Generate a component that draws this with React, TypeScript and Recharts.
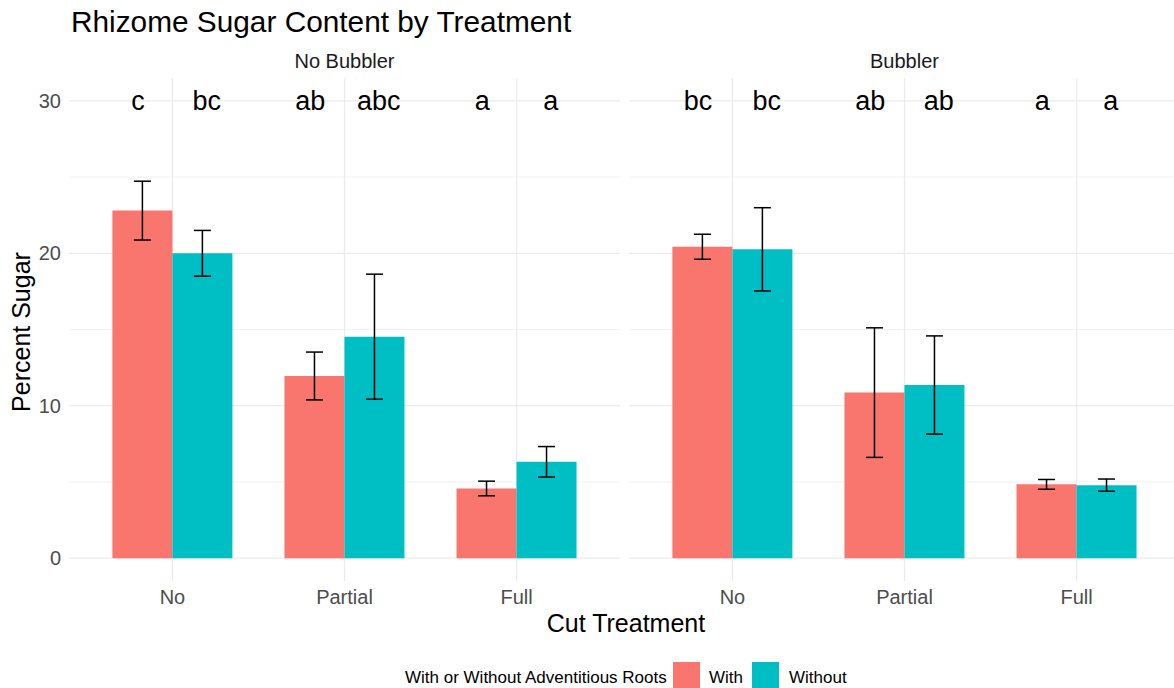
import { BarChart, Bar, XAxis, YAxis, CartesianGrid, ErrorBar, LabelList } from 'recharts'

const CUTS = ['No', 'Partial', 'Full']

// mean percent sugar and standard error, by adventitious roots
const NO_BUBBLER_WITH = [22.8, 11.95, 4.57]
const NO_BUBBLER_WITH_SE = [1.93, 1.57, 0.48]
const NO_BUBBLER_WITHOUT = [20.0, 14.53, 6.32]
const NO_BUBBLER_WITHOUT_SE = [1.5, 4.1, 1.0]
const NO_BUBBLER_WITH_LETTERS = ['c', 'ab', 'a']
const NO_BUBBLER_WITHOUT_LETTERS = ['bc', 'abc', 'a']

const BUBBLER_WITH = [20.43, 10.86, 4.84]
const BUBBLER_WITH_SE = [0.82, 4.25, 0.32]
const BUBBLER_WITHOUT = [20.26, 11.36, 4.79]
const BUBBLER_WITHOUT_SE = [2.73, 3.22, 0.4]
const BUBBLER_WITH_LETTERS = ['bc', 'ab', 'a']
const BUBBLER_WITHOUT_LETTERS = ['bc', 'ab', 'a']

const Y_TICKS = [0, 10, 20, 30]
const Y_MINOR = [5, 15, 25]
const LETTER_Y = 30

const RED = '#F8766D'
const CYAN = '#00BFC4'
const GRID = '#EBEBEB'
const FONT = '"Liberation Sans", Arial, sans-serif'

const W = 1174
const H = 688
const PLOT_TOP = 78
const PLOT_BOTTOM = 581
const Y_AXIS_W = 69
const PANEL_W = 551
const PANEL_GAP = 9
const BAND_PAD = 17.4
// bars are dodged at 0.7 of a category, letters at 0.8
const LETTER_SPREAD = 0.8 / 0.7 - 1

type Row = {
  cut: string
  with: number
  withSe: number
  withLetter: string
  without: number
  withoutSe: number
  withoutLetter: string
}

const buildRows = (
  w: number[], wSe: number[], wL: string[],
  wo: number[], woSe: number[], woL: string[],
): Row[] =>
  CUTS.map((cut, i) => ({
    cut,
    with: w[i],
    withSe: wSe[i],
    withLetter: wL[i],
    without: wo[i],
    withoutSe: woSe[i],
    withoutLetter: woL[i],
  }))

const noBubblerRows = buildRows(
  NO_BUBBLER_WITH, NO_BUBBLER_WITH_SE, NO_BUBBLER_WITH_LETTERS,
  NO_BUBBLER_WITHOUT, NO_BUBBLER_WITHOUT_SE, NO_BUBBLER_WITHOUT_LETTERS,
)
const bubblerRows = buildRows(
  BUBBLER_WITH, BUBBLER_WITH_SE, BUBBLER_WITH_LETTERS,
  BUBBLER_WITHOUT, BUBBLER_WITHOUT_SE, BUBBLER_WITHOUT_LETTERS,
)

// significance letter drawn over each bar at y = LETTER_Y, using the bar's own px/unit
const letterLabel = (values: number[], side: number) => (props: any) => {
  const vb = props.viewBox ?? props
  const { x, y, width, height } = vb
  const v = values[props.index]
  if (!v || !height) return null
  const base = y + height
  const ly = base - (LETTER_Y * height) / v
  const lx = x + width / 2 + side * (width / 2) * LETTER_SPREAD
  return (
    <text x={lx} y={ly} dy="0.35em" textAnchor="middle" fontSize={27} fontFamily={FONT} fill="#000">
      {props.value}
    </text>
  )
}

const tickStyle = { fontSize: 20, fill: '#4D4D4D', fontFamily: FONT }

function Panel({ rows, showY }: { rows: Row[]; showY: boolean }) {
  const width = (showY ? Y_AXIS_W : 0) + PANEL_W
  return (
    <BarChart
      width={width}
      height={H}
      data={rows}
      margin={{ top: PLOT_TOP, right: 0, left: 0, bottom: H - PLOT_BOTTOM - 30 }}
      barGap={0}
      barSize={60}
    >
      <CartesianGrid vertical={false} horizontalValues={Y_MINOR} stroke={GRID} strokeWidth={0.7} />
      <CartesianGrid stroke={GRID} strokeWidth={1.3} syncWithTicks />
      <XAxis
        dataKey="cut"
        height={30}
        padding={{ left: BAND_PAD, right: BAND_PAD }}
        tickLine={false}
        axisLine={false}
        tickMargin={3}
        tick={tickStyle}
        interval={0}
      />
      <YAxis
        type="number"
        domain={[-1.5, 31.5]}
        ticks={Y_TICKS}
        allowDataOverflow
        hide={!showY}
        width={Y_AXIS_W}
        tickLine={false}
        axisLine={false}
        tick={tickStyle}
      />
      <Bar dataKey="with" fill={RED} isAnimationActive={false}>
        <ErrorBar dataKey="withSe" width={8.5} stroke="#000" strokeWidth={1.5} isAnimationActive={false} />
        <LabelList dataKey="withLetter" content={letterLabel(rows.map(r => r.with), -1)} />
      </Bar>
      <Bar dataKey="without" fill={CYAN} isAnimationActive={false}>
        <ErrorBar dataKey="withoutSe" width={8.5} stroke="#000" strokeWidth={1.5} isAnimationActive={false} />
        <LabelList dataKey="withoutLetter" content={letterLabel(rows.map(r => r.without), 1)} />
      </Bar>
    </BarChart>
  )
}

export default function App() {
  const p2Left = Y_AXIS_W + PANEL_W + PANEL_GAP
  return (
    <div
      style={{
        position: 'absolute',
        left: 0,
        top: 0,
        width: W,
        height: H,
        overflow: 'hidden',
        background: '#fff',
        fontFamily: FONT,
      }}
    >
      <div style={{ position: 'absolute', left: 0, top: 0 }}>
        <Panel rows={noBubblerRows} showY />
      </div>
      <div style={{ position: 'absolute', left: p2Left, top: 0 }}>
        <Panel rows={bubblerRows} showY={false} />
      </div>

      <svg width={W} height={H} style={{ position: 'absolute', left: 0, top: 0, pointerEvents: 'none' }}>
        <text x={71} y={32} fontSize={29.8} fill="#000">Rhizome Sugar Content by Treatment</text>

        <text x={Y_AXIS_W + PANEL_W / 2} y={68} fontSize={20} fill="#1A1A1A" textAnchor="middle">No Bubbler</text>
        <text x={p2Left + PANEL_W / 2} y={68} fontSize={20} fill="#1A1A1A" textAnchor="middle">Bubbler</text>

        <text x={626} y={632} fontSize={25} fill="#000" textAnchor="middle">Cut Treatment</text>
        <text x={30} y={332} fontSize={25} fill="#000" textAnchor="middle" transform="rotate(-90 30 332)">
          Percent Sugar
        </text>

        <text x={405} y={683} fontSize={17} fill="#000">With or Without Adventitious Roots</text>
        <rect x={673} y={662} width={27} height={27} fill={RED} />
        <text x={709} y={683} fontSize={17} fill="#000">With</text>
        <rect x={752} y={662} width={27} height={27} fill={CYAN} />
        <text x={789} y={683} fontSize={17} fill="#000">Without</text>
      </svg>
    </div>
  )
}
